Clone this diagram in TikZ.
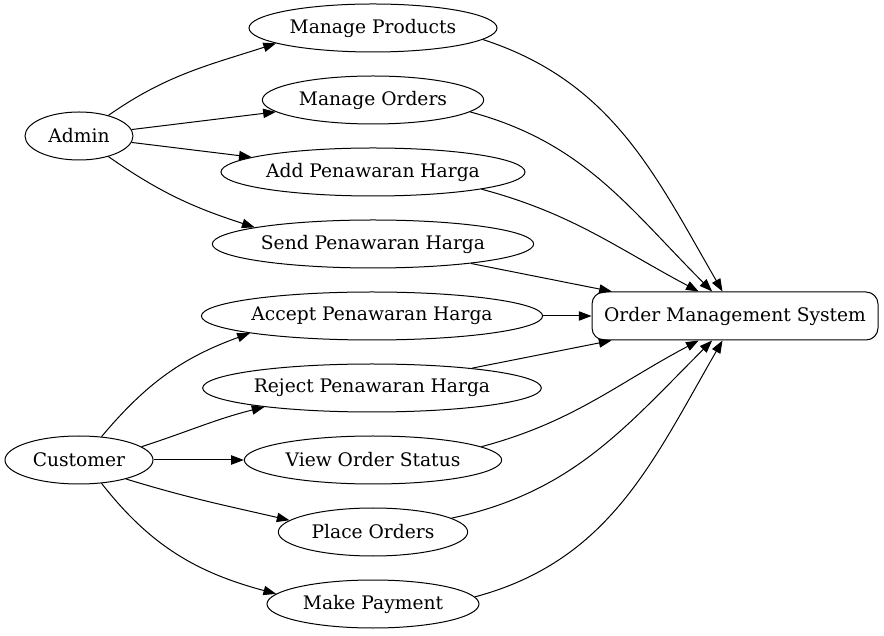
\documentclass[tikz,border=0pt]{standalone}
\usepackage{fontspec}
\setmainfont{DejaVu Serif}
\usetikzlibrary{arrows.meta}
\usetikzlibrary{shapes.geometric}

\begin{document}
\begin{tikzpicture}[x=.75pt,y=.75pt,line width=.75pt]
   \tikzstyle{uc} = [draw,ellipse,inner sep=0pt,minimum height=36pt,
     font=\fontsize{14}{16}\selectfont]
   \tikzstyle{sys} = [draw,rectangle,rounded corners=9pt,inner sep=0pt,
     minimum width=214.5pt,minimum height=36pt,font=\fontsize{14}{16}\selectfont]
   \tikzstyle{e} = [draw,-{Triangle[length=9.5pt,width=7pt]}]
   \useasboundingbox (0,0) rectangle (884,635);
    %% actors
    \node [uc,minimum width=81pt] (admin) at (79,499) {Admin};
    \node [uc,minimum width=111pt] (cust) at (79,175) {Customer};
    %% use cases
    \node [uc,minimum width=186pt] (mp) at (373,607) {Manage Products};
    \node [uc,minimum width=166pt] (mo) at (373,535) {Manage Orders};
    \node [uc,minimum width=228pt] (ap) at (373,463) {Add Penawaran Harga};
    \node [uc,minimum width=241pt] (sp) at (373,391) {Send Penawaran Harga};
    \node [uc,minimum width=255pt] (acp) at (372,319) {Accept Penawaran Harga};
    \node [uc,minimum width=254pt] (rp) at (372,247) {Reject Penawaran Harga};
    \node [uc,minimum width=193pt] (vo) at (373,175) {View Order Status};
    \node [uc,minimum width=142pt] (po) at (373,103) {Place Orders};
    \node [uc,minimum width=159pt] (mk) at (373,31) {Make Payment};
    %% system
    \node [sys] (oms) at (735,319) {Order Management System};
    %% admin
    \path [e] (admin.35) to[out=35,in=198] (mp.189);
    \path [e] (admin) -- (mo);
    \path [e] (admin) -- (ap);
    \path [e] (admin.-35) to[out=-35,in=162] (sp.172);
    %% customer
    \path [e] (cust.46) to[out=50,in=200] (acp.188.5);
    \path [e] (cust.12) to[out=18,in=194] (rp.190.5);
    \path [e] (cust) -- (vo);
    \path [e] (cust.-22) to[out=-17,in=167] (po.172);
    \path [e] (cust.-46) to[out=-52,in=165] (mk.174.5);
    %% to the system
    \path [e] (mp.-6) to[out=-18,in=120] (oms.117);
    \path [e] (mo.-7) to[out=-15,in=135] (oms.133);
    \path [e] (ap.-9) to[out=-15,in=152] (oms.146);
    \path [e] (sp) -- (oms);
    \path [e] (acp) -- (oms);
    \path [e] (rp) -- (oms);
    \path [e] (vo.7) to[out=15,in=208] (oms.214);
    \path [e] (po.10) to[out=12,in=225] (oms.227);
    \path [e] (mk.4) to[out=15,in=240] (oms.243);
  \end{tikzpicture}
\end{document}
